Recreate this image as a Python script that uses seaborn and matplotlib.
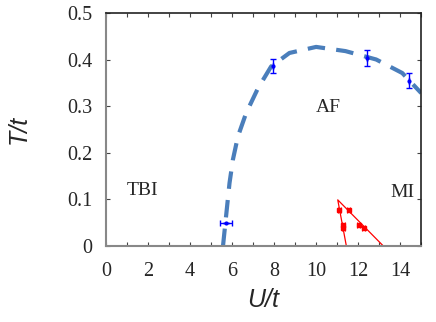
import numpy as np
import pandas as pd
import matplotlib
matplotlib.use("Agg")
import matplotlib.pyplot as plt
from matplotlib.ticker import MultipleLocator
import seaborn as sns

# AF phase boundary (dashed guide line)
af_U = [5.57, 5.73, 5.88, 6.04, 6.28, 6.67, 7.23, 7.86, 8.73, 10.0, 11.4, 12.86, 14.1, 15.0]
af_T = [0.0, 0.07, 0.135, 0.185, 0.235, 0.285, 0.338, 0.385, 0.414, 0.427, 0.418, 0.40, 0.371, 0.328]

# blue points with error bars
blue_U = [5.72, 7.93, 12.43, 14.43]
blue_T = [0.049, 0.386, 0.403, 0.354]
blue_Uerr = [0.28, 0.0, 0.0, 0.0]
blue_Terr = [0.0, 0.015, 0.017, 0.016]

# MI boundary lines (red)
mi_U = [11.44, 11.03, 13.2]
mi_T = [0.0, 0.099, 0.0]
red_U = [11.1, 11.55, 11.3, 11.3, 12.02, 12.26]
red_T = [0.077, 0.077, 0.046, 0.038, 0.046, 0.038]
red_Uerr = [0.08, 0.08, 0.08, 0.08, 0.08, 0.08]

sns.set_theme(style="ticks")

fig = plt.figure(figsize=(4.36, 3.22), dpi=100)
ax = fig.add_axes([0.243, 0.236, 0.723, 0.724])

af = pd.DataFrame({"U": af_U, "T": af_T})
sns.lineplot(data=af, x="U", y="T", sort=False, ax=ax, color="#4a7ebb", lw=3.0)
ax.lines[-1].set_dashes([4.2, 2.7])
ax.lines[-1].set_dash_capstyle("butt")

mi = pd.DataFrame({"U": mi_U, "T": mi_T})
sns.lineplot(data=mi, x="U", y="T", sort=False, ax=ax, color="red", lw=0.9)

ax.errorbar(blue_U, blue_T, xerr=blue_Uerr, yerr=blue_Terr, fmt="o", ms=2,
            color="blue", elinewidth=1, capsize=2.5, capthick=1)
ax.errorbar(red_U, red_T, xerr=red_Uerr, fmt="s", ms=2.5,
            color="red", elinewidth=0.8, capsize=2, capthick=0.8)

ax.set_xlim(0, 15)
ax.set_ylim(0, 0.5)
ax.xaxis.set_minor_locator(MultipleLocator(1))
ax.set_xticks(range(0, 15, 2))
ax.set_xticklabels([str(v) for v in range(0, 15, 2)])
ax.set_yticks([0, 0.1, 0.2, 0.3, 0.4, 0.5])
ax.set_yticklabels(["0", "0.1", "0.2", "0.3", "0.4", "0.5"])

ax.tick_params(which="both", direction="in", top=True, right=True,
               length=3, width=0.8, color="#444444")
ax.tick_params(axis="x", which="major", pad=11.5)
ax.tick_params(axis="y", which="major", pad=10)
for lab in ax.get_xticklabels() + ax.get_yticklabels():
    lab.set_family("Liberation Serif")
    lab.set_fontsize(14.5)

for side in ["left", "bottom"]:
    ax.spines[side].set_color("#888888")
    ax.spines[side].set_linewidth(1.5)
for side in ["top", "right"]:
    ax.spines[side].set_color("#222222")
    ax.spines[side].set_linewidth(1.2)

lab_font = dict(family="Liberation Sans", style="italic", fontsize=18)
ax.set_xlabel("U/t", labelpad=5, **lab_font)
ax.set_ylabel("T/t", labelpad=26, **lab_font)

txt = dict(family="Liberation Serif", fontsize=14, ha="center", va="center")
ax.text(1.76, 0.12, "TBI", **txt)
ax.text(10.6, 0.296, "AF", **txt)
ax.text(14.1, 0.114, "MI", **txt)

fig.savefig("out.png", dpi=100)
